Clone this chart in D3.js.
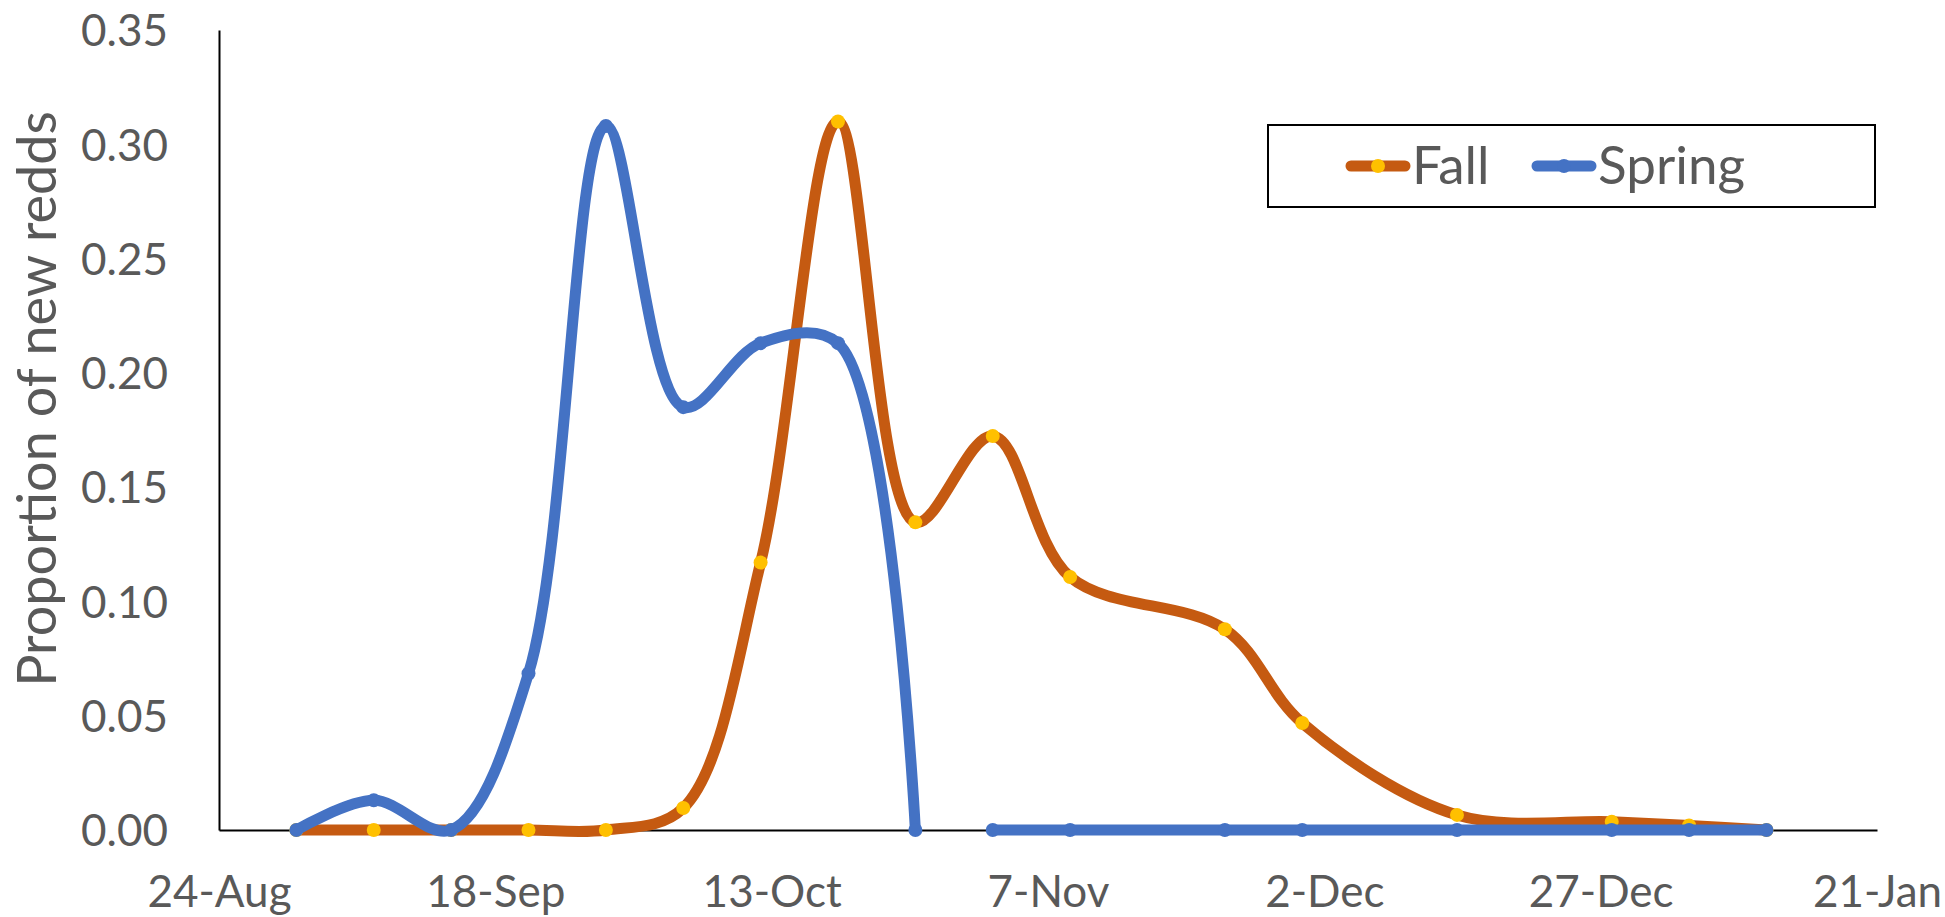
<!DOCTYPE html>
<html>
<head>
  <meta charset="utf-8">
  <style>
    body { margin: 0; background: #fff; }
    svg { display: block; }
    .tick text { font-family: Lato, "Open Sans", sans-serif; font-size: 44px; fill: #595959; }
    .domain { stroke: #000; stroke-width: 2px; }
  </style>
  <title>Proportion of new redds</title>
</head>
<body>
  <script src="https://cdn.jsdelivr.net/npm/d3@7/dist/d3.min.js"></script>
  <svg width="1945" height="917"></svg>

  <script>
    // survey dates (weekly, some weeks missing) and the two series
    var dates = ["2019-08-31", "2019-09-07", "2019-09-14", "2019-09-21", "2019-09-28",
                 "2019-10-05", "2019-10-12", "2019-10-19", "2019-10-26", "2019-11-02",
                 "2019-11-09", "2019-11-23", "2019-11-30", "2019-12-14", "2019-12-28",
                 "2020-01-04", "2020-01-11"];
    var fall   = [0, 0, 0, 0, 0, 0.0096, 0.117, 0.31, 0.1346, 0.1724,
                  0.1107, 0.0878, 0.0468, 0.0066, 0.0036, 0.002, 0];
    var spring = [0, 0.013, 0, 0.0685, 0.308, 0.185, 0.213, 0.213, 0, 0,
                  0, 0, 0, 0, 0, 0, 0];
    // spring line is broken after this date in the original
    var springBreakAfter = "2019-10-26";

    var xTicks = ["2019-08-24", "2019-09-18", "2019-10-13", "2019-11-07",
                  "2019-12-02", "2019-12-27", "2020-01-21"];
    var yTicks = [0, 0.05, 0.10, 0.15, 0.20, 0.25, 0.30, 0.35];
    var seriesNames = ["Fall", "Spring"];

    var parse = d3.utcParse("%Y-%m-%d");

    var svg = d3.select("svg");

    var x = d3.scaleUtc()
        .domain([parse(xTicks[0]), parse(xTicks[xTicks.length - 1])])
        .range([219, 1877]);
    var y = d3.scaleLinear().domain([0, 0.35]).range([830, 30]);

    var fallData = dates.map(function(d, i) { return {date: parse(d), v: fall[i]}; });
    var springData = dates.map(function(d, i) { return {date: parse(d), v: spring[i]}; });
    var cut = dates.indexOf(springBreakAfter) + 1;
    var springSegs = [springData.slice(0, cut), springData.slice(cut)];

    // Y axis
    svg.append("g")
       .attr("transform", "translate(219,0)")
       .call(d3.axisLeft(y).tickValues(yTicks).tickFormat(d3.format(".2f"))
              .tickSize(0).tickSizeOuter(0).tickPadding(51))
       .call(function(g) { g.selectAll(".tick text").attr("dy", "0.36em"); });

    // X axis
    svg.append("g")
       .attr("transform", "translate(0,830)")
       .call(d3.axisBottom(x).tickValues(xTicks.map(parse))
              .tickFormat(d3.utcFormat("%-d-%b"))
              .tickSize(0).tickSizeOuter(0).tickPadding(46));

    // Y axis title
    svg.append("text")
       .attr("transform", "rotate(-90)")
       .attr("x", -399)
       .attr("y", 56)
       .attr("text-anchor", "middle")
       .style("font-family", "Lato, 'Open Sans', sans-serif")
       .style("font-size", "54px")
       .style("fill", "#595959")
       .text("Proportion of new redds");

    var line = d3.line()
        .x(function(d) { return x(d.date); })
        .y(function(d) { return y(d.v); })
        .curve(d3.curveCatmullRom.alpha(0.5));

    // Fall series
    svg.append("path")
       .datum(fallData)
       .attr("d", line)
       .attr("fill", "none")
       .attr("stroke", "#C55A11")
       .attr("stroke-width", 11)
       .attr("stroke-linecap", "round")
       .attr("stroke-linejoin", "round");

    svg.selectAll(".fdot")
       .data(fallData)
       .enter().append("circle")
       .attr("class", "fdot")
       .attr("cx", function(d) { return x(d.date); })
       .attr("cy", function(d) { return y(d.v); })
       .attr("r", 7)
       .attr("fill", "#FFC000");

    // Spring series
    svg.selectAll(".sline")
       .data(springSegs)
       .enter().append("path")
       .attr("class", "sline")
       .attr("d", line)
       .attr("fill", "none")
       .attr("stroke", "#4472C4")
       .attr("stroke-width", 11)
       .attr("stroke-linecap", "round")
       .attr("stroke-linejoin", "round");

    svg.selectAll(".sdot")
       .data(springData)
       .enter().append("circle")
       .attr("class", "sdot")
       .attr("cx", function(d) { return x(d.date); })
       .attr("cy", function(d) { return y(d.v); })
       .attr("r", 7)
       .attr("fill", "#4472C4");

    // Legend
    var leg = svg.append("g");
    leg.append("rect")
       .attr("x", 1268).attr("y", 125)
       .attr("width", 607).attr("height", 82)
       .attr("fill", "#fff")
       .attr("stroke", "#000")
       .attr("stroke-width", 2);

    var legColors = [["#C55A11", "#FFC000"], ["#4472C4", "#4472C4"]];
    var legX = [1346, 1532];
    seriesNames.forEach(function(name, i) {
      leg.append("line")
         .attr("x1", legX[i] + 5).attr("x2", legX[i] + 59)
         .attr("y1", 166).attr("y2", 166)
         .attr("stroke", legColors[i][0])
         .attr("stroke-width", 11)
         .attr("stroke-linecap", "round");
      leg.append("circle")
         .attr("cx", legX[i] + 32).attr("cy", 166)
         .attr("r", 7)
         .attr("fill", legColors[i][1]);
      leg.append("text")
         .attr("x", legX[i] + 66)
         .attr("y", 184)
         .style("font-family", "Lato, 'Open Sans', sans-serif")
         .style("font-size", "53px")
         .style("fill", "#595959")
         .text(name);
    });
  </script>
</body>
</html>
